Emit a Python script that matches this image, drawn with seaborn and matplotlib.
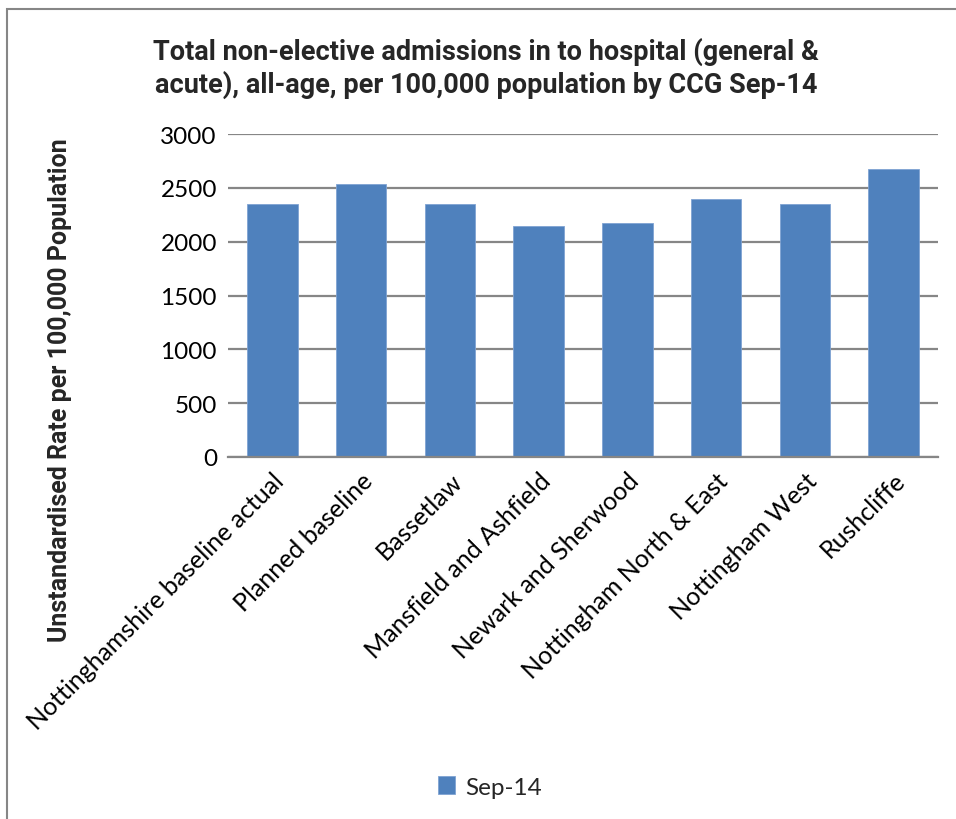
import matplotlib
matplotlib.use("Agg")
import matplotlib.pyplot as plt
import seaborn as sns
from matplotlib.patches import Rectangle

# data
categories = ["Nottinghamshire baseline actual", "Planned baseline", "Bassetlaw",
              "Mansfield and Ashfield", "Newark and Sherwood",
              "Nottingham North & East", "Nottingham West", "Rushcliffe"]
values = [2353, 2537, 2347, 2150, 2169, 2399, 2353, 2675]
series_name = "Sep-14"
yticks = [0, 500, 1000, 1500, 2000, 2500, 3000]

sns.set_style("white")
plt.rcParams["font.family"] = ["Lato", "DejaVu Sans"]

fig = plt.figure(figsize=(9.56, 8.2), dpi=100)
ax = fig.add_axes([228 / 956, 1 - 458 / 820, 710 / 956, 323 / 820])

bar_color = "#4F81BD"
sns.barplot(x=categories, y=values, color=bar_color, saturation=1, width=0.57,
            label=series_name, ax=ax, edgecolor="#7FA3D3", linewidth=0.6)

ax.set_ylim(0, 3000)
ax.set_yticks(yticks)
ax.set_xlim(-0.5, len(categories) - 0.5)
ax.yaxis.grid(True, color="#868686", linewidth=1.6)
ax.set_axisbelow(True)
for s in ["top", "right", "left"]:
    ax.spines[s].set_visible(False)
ax.spines["bottom"].set_color("#868686")
ax.spines["bottom"].set_linewidth(1.6)
ax.tick_params(axis="y", length=0, labelsize=17.5, colors="black", pad=8)
ax.tick_params(axis="x", length=0, labelsize=18, colors="black", pad=8)
ax.set_xticks(range(len(categories)))
ax.set_xticklabels(categories, rotation=45, ha="right", rotation_mode="anchor")
ax.set_xlabel("")
ax.set_ylabel("")

bold_font = ["Roboto", "DejaVu Sans"]
fig.text(486 / 956, 1 - 68 / 820,
         "Total non-elective admissions in to hospital (general &\nacute), all-age, per 100,000 population by CCG Sep-14",
         ha="center", va="center", fontsize=19.5, fontweight="bold", linespacing=1.22,
         family=bold_font)
fig.text(60 / 956, 1 - 390 / 820, "Unstandardised Rate per 100,000 Population",
         rotation=90, ha="center", va="center", fontsize=18, fontweight="bold",
         family=bold_font)

leg = ax.legend(loc="center", bbox_to_anchor=(490 / 956, 1 - 788 / 820),
                bbox_transform=fig.transFigure, frameon=False, fontsize=17.5,
                handlelength=0.7, handleheight=0.7, handletextpad=0.4)

# outer chart border
fig.patches.append(Rectangle((7 / 956, -0.05), 1.1, 1 - 10 / 820 + 0.05,
                             transform=fig.transFigure, fill=False,
                             edgecolor="#868686", linewidth=1.5))

fig.savefig("out.png", dpi=100)
